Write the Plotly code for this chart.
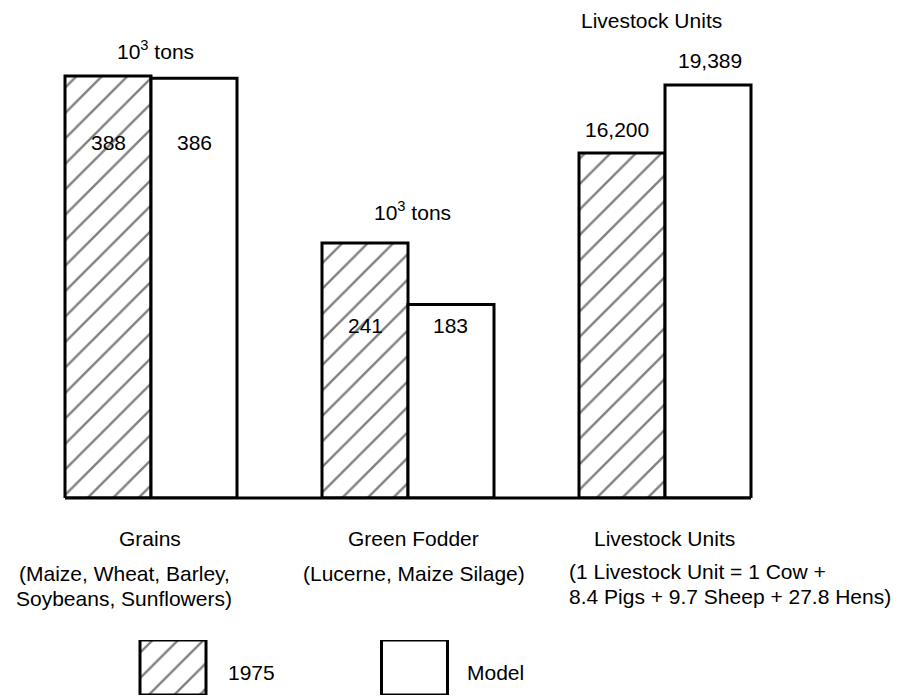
import plotly.graph_objects as go

# ---- data ----
categories = ["Grains", "Green Fodder", "Livestock Units"]
values_1975 = [388, 241, 16200]
values_model = [386, 183, 19389]
labels_1975 = ["388", "241", "16,200"]
labels_model = ["386", "183", "19,389"]
unit_labels = ["10<sup>3</sup> tons", "10<sup>3</sup> tons", "Livestock Units"]
group_titles = ["Grains", "Green Fodder", "Livestock Units"]
group_notes = [
    ["(Maize, Wheat, Barley,", "Soybeans, Sunflowers)"],
    ["(Lucerne, Maize Silage)"],
    ["(1 Livestock Unit = 1 Cow +", "8.4 Pigs + 9.7 Sheep + 27.8 Hens)"],
]
legend_names = ["1975", "Model"]

W, H = 907, 698
FONT = "Liberation Sans, Arial, sans-serif"
FS = 21

def px(x):
    return x / W

def py(y):
    return 1 - y / H

base_px = 498
dom_bottom = py(base_px)
bw = 86 / 257
x0 = -151 / 257
xr = [x0, x0 + W / 257]

# per-group y ranges (each group has its own units)
ranges = [[0, 457.9], [0, 470.7], [0, 23384]]
yaxes = ["y", "y2", "y3"]

hatch = dict(shape="/", fgcolor="black", bgcolor="white", size=18, solidity=0.13)

fig = go.Figure()
for i, cat in enumerate(categories):
    fig.add_trace(go.Bar(
        x=[cat], y=[values_1975[i]], yaxis=yaxes[i], xaxis="x",
        width=bw, offset=-bw,
        marker=dict(color="white", pattern=hatch, line=dict(color="black", width=3)),
        showlegend=False, hoverinfo="skip"))
    fig.add_trace(go.Bar(
        x=[cat], y=[values_model[i]], yaxis=yaxes[i], xaxis="x",
        width=bw, offset=0,
        marker=dict(color="white", line=dict(color="black", width=3)),
        showlegend=False, hoverinfo="skip"))

# legend swatches
fig.add_trace(go.Bar(
    x=[0], y=[1], xaxis="x2", yaxis="y4", width=66 / 241.5,
    marker=dict(color="white", pattern=hatch, line=dict(color="black", width=3)),
    showlegend=False, hoverinfo="skip"))
fig.add_trace(go.Bar(
    x=[1], y=[1], xaxis="x2", yaxis="y4", width=66 / 241.5,
    marker=dict(color="white", line=dict(color="black", width=3)),
    showlegend=False, hoverinfo="skip"))

hidden = dict(visible=False, showgrid=False, zeroline=False)
fig.update_layout(
    width=W, height=H, autosize=False,
    margin=dict(l=0, r=0, t=0, b=0),
    paper_bgcolor="white", plot_bgcolor="rgba(0,0,0,0)",
    barmode="overlay",
    font=dict(family=FONT, size=FS, color="black"),
    xaxis=dict(domain=[0, 1], range=xr, type="category",
               categoryorder="array", categoryarray=categories, **hidden),
    yaxis=dict(domain=[dom_bottom, 1], range=ranges[0], **hidden),
    yaxis2=dict(domain=[dom_bottom, 1], range=ranges[1], overlaying="y", **hidden),
    yaxis3=dict(domain=[dom_bottom, 1], range=ranges[2], overlaying="y", **hidden),
    xaxis2=dict(domain=[0, 1], range=[-173 / 241.5, (W - 173) / 241.5], anchor="y4", **hidden),
    yaxis4=dict(domain=[py(695), py(640)], range=[0, 1], anchor="x2", **hidden),
)

# baseline across all groups
fig.add_shape(type="line", xref="x", yref="paper", x0=-bw, x1=2 + bw,
              y0=dom_bottom, y1=dom_bottom, line=dict(color="black", width=3))

ann = []
def A(text, x, y, xanchor="center", size=FS):
    ann.append(dict(text=text, x=px(x), y=py(y), xref="paper", yref="paper",
                    xanchor=xanchor, yanchor="middle", showarrow=False,
                    font=dict(family=FONT, size=size, color="black")))

# value labels
A(labels_1975[0], 108, 142)
A(labels_model[0], 194, 142)
A(labels_1975[1], 365, 326)
A(labels_model[1], 450, 326)
A(labels_1975[2], 617, 130)
A(labels_model[2], 710, 60)
# unit labels
A(unit_labels[0], 155, 50)
A(unit_labels[1], 412, 211)
A(unit_labels[2], 651, 20)
# category titles and notes
A(group_titles[0], 150, 538)
A(group_titles[1], 413, 538)
A(group_titles[2], 664, 538)
A(group_notes[0][0], 124, 573)
A(group_notes[0][1], 124, 598)
A(group_notes[1][0], 414, 573)
A(group_notes[2][0], 567, 571, xanchor="left")
A(group_notes[2][1], 567, 596, xanchor="left")
# legend text
A(legend_names[0], 251, 672)
A(legend_names[1], 495, 672)
fig.update_layout(annotations=ann)

fig.write_html("out.html", config={"displayModeBar": False},
               post_script="document.body.style.margin='0';document.body.style.padding='0';")
